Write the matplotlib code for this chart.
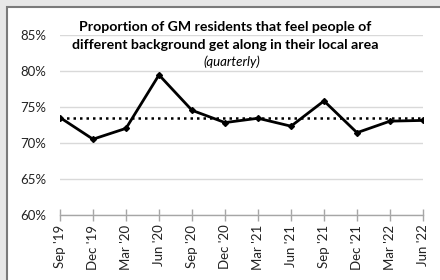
import matplotlib
matplotlib.use("Agg")
import matplotlib.pyplot as plt
from matplotlib.patches import Rectangle

quarters = ["Sep '19", "Dec '19", "Mar '20", "Jun '20", "Sep '20", "Dec '20",
            "Mar '21", "Jun '21", "Sep '21", "Dec '21", "Mar '22", "Jun '22"]
values = [73.5, 70.5, 72.0, 79.4, 74.5, 72.8, 73.4, 72.3, 75.8, 71.4, 73.0, 73.1]
average = 73.5

plt.rcParams['font.family'] = ['Lato', 'DejaVu Sans']

dpi = 100
fig = plt.figure(dpi=dpi, figsize=(440 / dpi, 280 / dpi), facecolor='#e7e7e7')
W, H = 440, 280

# white panel with darker edge (only left and top visible)
fig.patches.append(Rectangle((6.5 / W, -0.2), 1.2, 1.2 - 6.5 / H, transform=fig.transFigure,
                             facecolor='white', edgecolor='#7a7a7a', linewidth=1.5, zorder=-5))

ax = fig.add_axes([60 / W, 1 - 215 / H, (423 - 60) / W, (215 - 34.5) / H])
ax.set_facecolor('none')

x = list(range(len(quarters)))
ax.plot(x, values, color='black', linewidth=2, marker='D', markersize=3, zorder=3)
ax.plot([x[0], x[-1]], [average, average], color='black', linestyle=(0, (1, 1.6)),
        linewidth=1.8, zorder=2)

ax.set_xlim(0, len(quarters) - 1)
ax.set_ylim(60, 85)
ax.set_yticks([60, 65, 70, 75, 80, 85])
ax.set_yticklabels(['%d%%' % v for v in [60, 65, 70, 75, 80, 85]], fontsize=9.5, color='#222222')
ax.yaxis.grid(True, color='#d9d9d9', linewidth=1)
ax.set_axisbelow(True)
ax.tick_params(axis='y', length=0, pad=10)

ax.set_xticks(x)
ax.set_xticklabels(quarters, rotation=90, fontsize=9.5, color='#222222')
ax.tick_params(axis='x', direction='inout', length=8, color='#a6a6a6', width=1, pad=3)

for s in ['top', 'right', 'left']:
    ax.spines[s].set_visible(False)
ax.spines['bottom'].set_color('#a6a6a6')
ax.spines['bottom'].set_linewidth(1)

fig.text(225 / W, 1 - 27 / H, 'Proportion of GM residents that feel people of',
         ha='center', va='center', fontsize=10.2, fontweight='bold')
fig.text(225 / W, 1 - 45 / H, 'different background get along in their local area',
         ha='center', va='center', fontsize=10.2, fontweight='bold')
fig.text(232 / W, 1 - 62 / H, '(quarterly)', ha='center', va='center',
         fontsize=9.5, style='italic')

fig.savefig('out.png', dpi=dpi, facecolor=fig.get_facecolor())
